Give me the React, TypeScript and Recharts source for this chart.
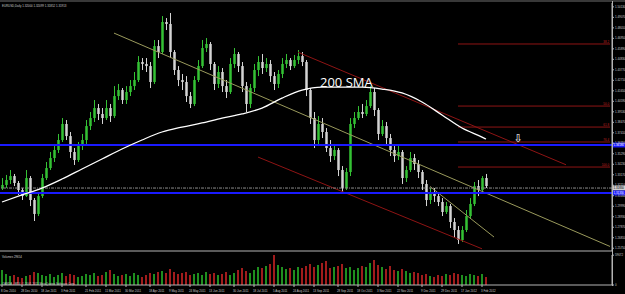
import { ComposedChart, BarChart, Bar, Line, XAxis, YAxis, ReferenceLine } from 'recharts';

const BG = '#000000';
const AXIS = '#b4b4b4';
const TEXT = '#c8c8c8';
const UP = '#34c234';
const DOWN = '#d4d4d4';
const VOL_UP = '#1f8f1f';
const VOL_DOWN = '#a01c1c';
const FIB = '#8e1414';
const TREND = '#9a9a5c';
const BLUE = '#1a1aff';
const FONT = '"Liberation Sans", sans-serif';
const SMALL = 2.9;

const SLOT_COUNT = 153; // bar slots across the plot, the right ones stay empty

// EURUSD daily, bars (one bar per slot)
const firstOpen = 1.3183;
const closes = [
  1.3214, 1.3264, 1.3304, 1.3234, 1.3163, 1.3102, 1.3284, 1.3062, 1.2921, 1.3102,
  1.3284, 1.3385, 1.3486, 1.3567, 1.3668, 1.3830, 1.3708, 1.3547, 1.3466, 1.3607,
  1.3668, 1.3809, 1.3890, 1.3991, 1.3931, 1.3890, 1.3991, 1.3910, 1.4112, 1.4173,
  1.4072, 1.4153, 1.4213, 1.4274, 1.4456, 1.4436, 1.4415, 1.4254, 1.4617, 1.4557,
  1.4860, 1.4840, 1.4557, 1.4375, 1.4274, 1.4254, 1.4112, 1.4032, 1.4274, 1.4415,
  1.4597, 1.4638, 1.4436, 1.4234, 1.4355, 1.4213, 1.4153, 1.4436, 1.4537, 1.4415,
  1.4213, 1.4032, 1.4193, 1.4375, 1.4456, 1.4395, 1.4436, 1.4314, 1.4234, 1.4335,
  1.4436, 1.4476, 1.4415, 1.4476, 1.4516, 1.4456, 1.4173, 1.3890, 1.3668, 1.3830,
  1.3749, 1.3587, 1.3506, 1.3567, 1.3365, 1.3183, 1.3345, 1.3830, 1.3890, 1.3951,
  1.3931, 1.4011, 1.4153, 1.3971, 1.3729, 1.3809, 1.3688, 1.3567, 1.3506, 1.3547,
  1.3284, 1.3365, 1.3486, 1.3426, 1.3345, 1.3224, 1.3062, 1.3123, 1.3102, 1.3042,
  1.2941, 1.3001, 1.2840, 1.2759, 1.2658, 1.2759, 1.2900, 1.3022, 1.3203, 1.3163,
  1.3284, 1.3203,
];
const highs = [
  1.3284, 1.3315, 1.3365, 1.3325, 1.3254, 1.3183, 1.3365, 1.3304, 1.3082, 1.3143,
  1.3325, 1.3446, 1.3547, 1.3628, 1.3729, 1.3890, 1.3870, 1.3749, 1.3587, 1.3648,
  1.3729, 1.3870, 1.3951, 1.4072, 1.4032, 1.3991, 1.4072, 1.4032, 1.4213, 1.4234,
  1.4193, 1.4213, 1.4274, 1.4355, 1.4516, 1.4496, 1.4496, 1.4456, 1.4678, 1.4678,
  1.4920, 1.4900, 1.4951, 1.4577, 1.4415, 1.4335, 1.4314, 1.4153, 1.4314, 1.4476,
  1.4678, 1.4698, 1.4658, 1.4456, 1.4415, 1.4395, 1.4274, 1.4496, 1.4597, 1.4557,
  1.4456, 1.4254, 1.4234, 1.4436, 1.4516, 1.4537, 1.4496, 1.4476, 1.4355, 1.4375,
  1.4496, 1.4537, 1.4496, 1.4527, 1.4577, 1.4557, 1.4476, 1.4193, 1.3951, 1.3910,
  1.3890, 1.3789, 1.3668, 1.3628, 1.3587, 1.3405, 1.3385, 1.3890, 1.3951, 1.4011,
  1.4032, 1.4072, 1.4213, 1.4193, 1.3991, 1.3870, 1.3850, 1.3729, 1.3607, 1.3607,
  1.3567, 1.3405, 1.3547, 1.3527, 1.3466, 1.3365, 1.3264, 1.3183, 1.3183, 1.3123,
  1.3082, 1.3042, 1.3022, 1.2880, 1.2799, 1.2799, 1.2961, 1.3082, 1.3244, 1.3264,
  1.3304, 1.3325,
];
const lows = [
  1.3163, 1.3183, 1.3224, 1.3203, 1.3113, 1.3062, 1.3092, 1.3001, 1.2850, 1.2900,
  1.3082, 1.3264, 1.3365, 1.3446, 1.3537, 1.3648, 1.3668, 1.3486, 1.3416, 1.3446,
  1.3567, 1.3628, 1.3769, 1.3850, 1.3870, 1.3830, 1.3870, 1.3850, 1.3890, 1.4072,
  1.4032, 1.4032, 1.4112, 1.4173, 1.4254, 1.4375, 1.4355, 1.4193, 1.4234, 1.4496,
  1.4537, 1.4779, 1.4496, 1.4325, 1.4213, 1.4173, 1.4052, 1.3991, 1.4011, 1.4254,
  1.4395, 1.4557, 1.4375, 1.4173, 1.4193, 1.4153, 1.4092, 1.4133, 1.4395, 1.4355,
  1.4153, 1.3951, 1.3991, 1.4153, 1.4314, 1.4335, 1.4355, 1.4254, 1.4173, 1.4193,
  1.4294, 1.4395, 1.4375, 1.4395, 1.4436, 1.4415, 1.4112, 1.3830, 1.3587, 1.3607,
  1.3688, 1.3547, 1.3446, 1.3466, 1.3304, 1.3143, 1.3163, 1.3304, 1.3789, 1.3870,
  1.3890, 1.3910, 1.3991, 1.3910, 1.3668, 1.3708, 1.3628, 1.3506, 1.3446, 1.3466,
  1.3224, 1.3244, 1.3345, 1.3365, 1.3284, 1.3163, 1.3001, 1.3022, 1.3042, 1.3001,
  1.2900, 1.2921, 1.2779, 1.2678, 1.2618, 1.2638, 1.2739, 1.2880, 1.3001, 1.3102,
  1.3123, 1.3183,
];
const volumes = [
  30000, 22000, 18000, 20000, 16000, 14000, 18000, 20000, 26000, 24000,
  20000, 18000, 22000, 16000, 20000, 24000, 18000, 22000, 20000, 16000,
  18000, 22000, 20000, 24000, 18000, 20000, 26000, 30000, 22000, 18000,
  20000, 22000, 18000, 24000, 20000, 16000, 20000, 24000, 22000, 26000,
  28000, 24000, 32000, 26000, 22000, 24000, 26000, 20000, 22000, 24000,
  20000, 26000, 22000, 24000, 20000, 22000, 26000, 20000, 24000, 30000,
  34000, 28000, 24000, 30000, 36000, 34000, 38000, 42000, 60000, 40000,
  36000, 32000, 34000, 30000, 36000, 34000, 38000, 42000, 36000, 40000,
  44000, 48000, 34000, 36000, 38000, 42000, 34000, 36000, 30000, 34000,
  38000, 36000, 44000, 50000, 40000, 36000, 32000, 38000, 30000, 28000,
  32000, 28000, 24000, 26000, 24000, 20000, 22000, 18000, 16000, 20000,
  18000, 22000, 20000, 24000, 22000, 20000, 18000, 22000, 20000, 18000,
  22000, 16000,
];

// 200 SMA, read every 5 bars
const smaSlots = [0, 5, 10, 15, 20, 25, 30, 35, 40, 45, 50, 55, 60, 65, 70, 75, 80, 85, 90, 95, 100, 105, 110, 115, 120, 121];
const smaValues = [
  1.3042, 1.3113, 1.3183, 1.3274, 1.3375, 1.3476, 1.3577, 1.3668, 1.3749, 1.3799,
  1.3840, 1.3890, 1.3931, 1.3991, 1.4092, 1.4173, 1.4203, 1.4203, 1.4203, 1.4183,
  1.4143, 1.4052, 1.3921, 1.3789, 1.3698, 1.3678,
];

const priceTicks = [
  1.2575, 1.2681, 1.2787, 1.2893, 1.2999, 1.3105, 1.3211, 1.3317, 1.3423, 1.3529,
  1.3635, 1.3741, 1.3847, 1.3953, 1.4059, 1.4165, 1.4271, 1.4377, 1.4483, 1.4589,
  1.4695, 1.4801, 1.4907, 1.5013,
];
const dateTickSlots = [0, 5, 10, 15, 21, 26, 31, 37, 42, 47, 52, 58, 63, 68, 73, 78, 84, 89, 94, 99, 105, 110, 115, 120];
const dateLabels = [
  '8 Dec 2010', '28 Dec 2010', '18 Jan 2011', '3 Feb 2011', '21 Feb 2011', '11 Mar 2011',
  '30 Mar 2011', '18 Apr 2011', '9 May 2011', '24 May 2011', '13 Jun 2011', '30 Jun 2011',
  '18 Jul 2011', '5 Aug 2011', '24 Aug 2011', '13 Sep 2011', '28 Sep 2011', '18 Oct 2011',
  '3 Nov 2011', '22 Nov 2011', '9 Dec 2011', '29 Dec 2011', '17 Jan 2012', '3 Feb 2012',
];

const blueLevels = [1.3618, 1.3133];
const bidPrice = 1.3183;
const fibLevels = [1.4638, 1.4011, 1.3799, 1.3648, 1.3395];
const fibLabels = ['38.2', '50.0', '61.8', '76.4', '100.0'];
const fibStartSlot = 114;

const trendLines = [
  { x1: 28, y1: 1.4748, x2: 152, y2: 1.2593, color: TREND },
  { x1: 74, y1: 1.4555, x2: 141, y2: 1.3418, color: FIB },
  { x1: 64, y1: 1.3496, x2: 120, y2: 1.2569, color: FIB },
  { x1: 107, y1: 1.3199, x2: 123, y2: 1.2688, color: TREND },
];

const rows: any[] = Array.from({ length: SLOT_COUNT }, (_, i) => {
  if (i >= closes.length) return { i };
  const o = i === 0 ? firstOpen : closes[i - 1];
  const c = closes[i];
  return { i, o, c, h: Math.max(highs[i], o, c), l: Math.min(lows[i], o, c), v: volumes[i] };
});
smaSlots.forEach((s, k) => { rows[s].sma = smaValues[k]; });

function Candle(props: any) {
  const { x, y, width, height, payload } = props;
  if (!payload || payload.h == null) return null;
  const { o, h, l, c } = payload;
  const span = h - l || 1;
  const yOf = (v: number) => y + ((h - v) / span) * height;
  const color = c >= o ? UP : DOWN;
  const cx = x + width / 2;
  const top = yOf(Math.max(o, c));
  const bot = yOf(Math.min(o, c));
  return (
    <g>
      <line x1={cx} x2={cx} y1={y} y2={y + height} stroke={color} strokeWidth={1} />
      <rect x={cx - 1.25} y={top} width={2.5} height={Math.max(bot - top, 0.8)} fill={color} />
    </g>
  );
}

function VolumeBar(props: any) {
  const { x, y, width, height, payload } = props;
  if (!payload || payload.v == null) return null;
  return <rect x={x} y={y} width={width} height={height} fill={payload.c >= payload.o ? VOL_UP : VOL_DOWN} />;
}

function AxisTag({ viewBox, text, bg, fg }: any) {
  if (!viewBox) return null;
  const x = viewBox.x + viewBox.width;
  return (
    <g>
      <rect x={x} y={viewBox.y - 2.5} width={13} height={5} fill={bg} />
      <text x={x + 1.5} y={viewBox.y + 1} fontSize={SMALL} fill={fg} fontFamily={FONT}>{text}</text>
    </g>
  );
}

function FibTag({ viewBox, text }: any) {
  if (!viewBox) return null;
  return (
    <text x={viewBox.x + viewBox.width - 1} y={viewBox.y - 1} textAnchor="end" fontSize={SMALL} fill="#c82020" fontFamily={FONT}>
      {text}
    </text>
  );
}

function DateTick({ x, y, payload }: any) {
  const k = dateTickSlots.indexOf(payload.value);
  if (k < 0) return null;
  return <text x={x - 1} y={y + 3} fontSize={SMALL} fill={TEXT} fontFamily={FONT}>{dateLabels[k]}</text>;
}

export default function App() {
  return (
    <div style={{ position: 'absolute', left: 0, top: 0, width: 625, height: 294, background: BG, overflow: 'hidden' }}>
      <div style={{ position: 'absolute', left: 0, top: 0 }}>
        <ComposedChart width={625} height={252} data={rows} margin={{ top: 3, right: 0, bottom: 0, left: 0 }}>
          <XAxis dataKey="i" height={1} tick={false} tickLine={false} axisLine={{ stroke: AXIS }} />
          <YAxis
            orientation="right" width={13} domain={[1.2547, 1.5052]} allowDataOverflow
            ticks={priceTicks} interval={0} tickFormatter={(v: number) => v.toFixed(5)}
            tick={{ fontSize: SMALL, fill: TEXT, fontFamily: FONT }} tickSize={2} tickMargin={1}
            tickLine={{ stroke: AXIS }} axisLine={{ stroke: AXIS }}
          />
          {fibLevels.map((p, k) => (
            <ReferenceLine key={'f' + k} segment={[{ x: fibStartSlot, y: p }, { x: SLOT_COUNT - 1, y: p }]}
              stroke={FIB} strokeWidth={1} label={<FibTag text={fibLabels[k]} />} />
          ))}
          {trendLines.map((t, k) => (
            <ReferenceLine key={'t' + k} segment={[{ x: t.x1, y: t.y1 }, { x: t.x2, y: t.y2 }]} stroke={t.color} strokeWidth={1} />
          ))}
          <ReferenceLine y={bidPrice} stroke="#8c8c8c" strokeDasharray="3 1 1 1"
            label={<AxisTag text={bidPrice.toFixed(5)} bg="#d0d0d0" fg="#000" />} />
          {blueLevels.map((p, k) => (
            <ReferenceLine key={'b' + k} y={p} stroke={BLUE} strokeWidth={2}
              label={<AxisTag text={p.toFixed(5)} bg={BLUE} fg="#ffffff" />} />
          ))}
          <Bar dataKey={(d: any) => (d.h == null ? null : [d.l, d.h])} barSize={3} shape={<Candle />} isAnimationActive={false} />
          <Line dataKey="sma" type="monotone" connectNulls dot={false} stroke="#ffffff" strokeWidth={1.3} isAnimationActive={false} />
        </ComposedChart>
      </div>
      <div style={{ position: 'absolute', left: 0, top: 252 }}>
        <BarChart width={625} height={42} data={rows} margin={{ top: 3, right: 0, bottom: 0, left: 0 }}>
          <XAxis dataKey="i" height={9} ticks={dateTickSlots} interval={0} tick={<DateTick />}
            tickSize={2} tickLine={{ stroke: AXIS }} axisLine={{ stroke: AXIS }} />
          <YAxis orientation="right" width={13} domain={[0, 60000]} ticks={[0, 59672]} interval={0}
            tick={{ fontSize: SMALL, fill: TEXT, fontFamily: FONT }} tickSize={2} tickMargin={1}
            tickLine={{ stroke: AXIS }} axisLine={{ stroke: AXIS }} />
          <Bar dataKey="v" barSize={2} shape={<VolumeBar />} isAnimationActive={false} />
        </BarChart>
      </div>
      <svg width={625} height={294} style={{ position: 'absolute', left: 0, top: 0, pointerEvents: 'none' }}>
        <line x1={0} x2={625} y1={1} y2={1} stroke="#707070" />
        <line x1={612.5} x2={612.5} y1={1} y2={286} stroke={AXIS} />
        <text x={2} y={6.5} fontSize={SMALL} fill={TEXT} fontFamily={FONT}>EURUSD,Daily  1.32000 1.32099 1.31852 1.31913</text>
        <text x={320} y={87} fontSize={13} fill="#ffffff" fontFamily='"Open Sans", sans-serif'>200 SMA</text>
        <text x={518} y={142} fontSize={11} fill="#ffffff" textAnchor="middle" fontFamily='"DejaVu Sans", sans-serif'>⇩</text>
        <text x={2} y={257.5} fontSize={SMALL} fill={TEXT} fontFamily={FONT}>Volumes 29654</text>
        <text x={2} y={285} fontSize={SMALL} fill={TEXT} fontFamily={FONT}>OANDA - MT4, © 2001-2011 MetaQuotes Software Corp.</text>
      </svg>
    </div>
  );
}
